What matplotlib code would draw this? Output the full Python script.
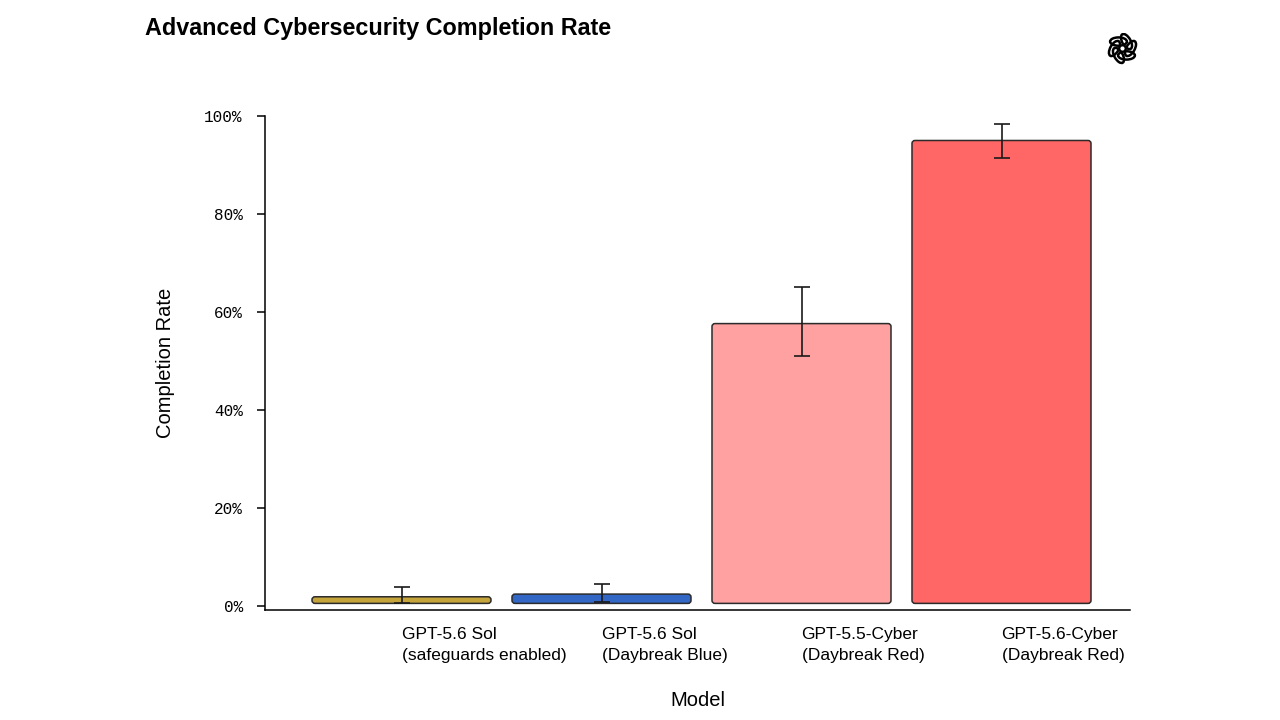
import numpy as np
import matplotlib
matplotlib.use("Agg")
import matplotlib.pyplot as plt
from matplotlib.patches import FancyBboxPatch, Ellipse

# data
models = ["GPT-5.6 Sol\n(safeguards enabled)", "GPT-5.6 Sol\n(Daybreak Blue)",
          "GPT-5.5-Cyber\n(Daybreak Red)", "GPT-5.6-Cyber\n(Daybreak Red)"]
rates = [1.8, 2.35, 57.6, 95.0]
err_low = [0.45, 0.8, 50.9, 91.5]
err_high = [3.85, 4.4, 65.0, 98.4]
colors = ["#c4a43b", "#3267c6", "#ffa1a1", "#ff6666"]
yticks = [0, 20, 40, 60, 80, 100]

plt.rcParams['font.family'] = ['Liberation Sans', 'DejaVu Sans']

fig = plt.figure(figsize=(12.8, 7.2), dpi=100)
ax = fig.add_axes([265/1280, 1 - 610/720, 865/1280, 494/720])

x = np.arange(len(models))
width = 0.895
base = 0.45  # bars sit a hair above zero in the original
ax.set_xlim(-0.6825, 3.6425)
ax.set_ylim(-0.9, 100)

# rounded bars, corner radius in pixels converted to data units
px_x = 865 / (3.6425 + 0.6825)
px_y = 494 / 100.9
for xi, r, c in zip(x, rates, colors):
    h = r - base
    rad_px = min(3.0, h * px_y / 2 - 0.2)
    patch = FancyBboxPatch((xi - width/2, base), width, h,
                           boxstyle="round,pad=0,rounding_size=%f" % (rad_px / px_x),
                           mutation_aspect=px_x / px_y,
                           facecolor=c, edgecolor="#2b2b2b", linewidth=1.1, zorder=2)
    ax.add_patch(patch)

yerr = [np.array(rates) - np.array(err_low), np.array(err_high) - np.array(rates)]
ax.errorbar(x, rates, yerr=yerr, fmt="none", ecolor="#1a1a1a",
            elinewidth=1.2, capsize=5.5, capthick=1.2, zorder=3)

ax.spines['top'].set_visible(False)
ax.spines['right'].set_visible(False)
ax.spines['left'].set_linewidth(1.1)
ax.spines['bottom'].set_linewidth(1.1)

ax.set_yticks(yticks)
ax.set_yticklabels(["%d%%" % v for v in yticks], family="Liberation Mono", fontsize=11.5)
ax.tick_params(axis='y', length=6, width=1.1, pad=10)
ax.set_xticks(x)
ax.set_xticklabels(models, ha="left", fontsize=12.5, linespacing=1.55)
ax.tick_params(axis='x', length=0, pad=12)

ax.set_xlabel("Model", fontsize=14.5, labelpad=20)
ax.set_ylabel("Completion Rate", fontsize=14.5, labelpad=21)

fig.text(145/1280, 1 - 28/720, "Advanced Cybersecurity Completion Rate",
         fontsize=16.8, fontweight="bold", va="center", ha="left")

# rough OpenAI blossom mark, top right
lax = fig.add_axes([(1122.5 - 16)/1280, 1 - (48.5 + 16)/720, 32/1280, 32/720])
lax.set_xlim(-1, 1)
lax.set_ylim(-1, 1)
lax.set_aspect('equal')
lax.axis('off')
for k in range(6):
    a = np.deg2rad(60 * k)
    cx, cy = 0.5 * np.cos(a), 0.5 * np.sin(a)
    lax.add_patch(Ellipse((cx, cy), 1.05, 0.52, angle=60 * k + 60,
                          fill=False, edgecolor="black", linewidth=1.8))

fig.savefig("out.png", dpi=100)
